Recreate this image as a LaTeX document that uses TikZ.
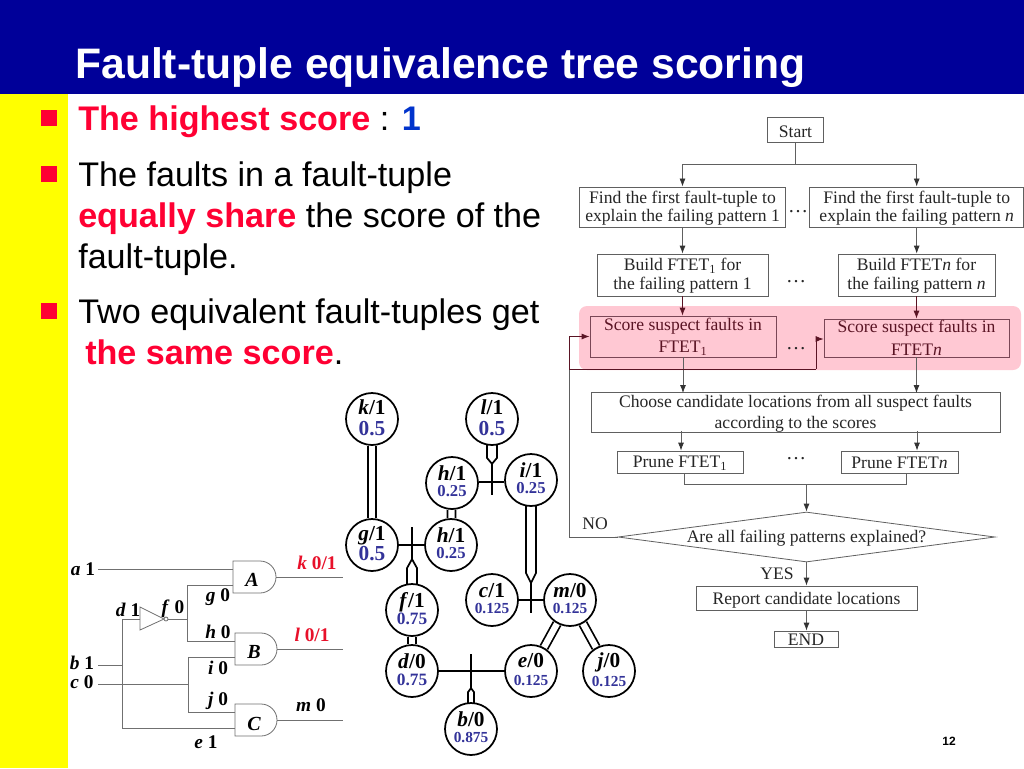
\documentclass[tikz,border=0pt]{standalone}
\usepackage{fontspec}
\setmainfont{Liberation Serif}
\newfontfamily\arialf{Liberation Sans}
\usetikzlibrary{calc,shapes.geometric,arrows.meta}
\pgfdeclarelayer{bg}\pgfdeclarelayer{edges}
\pgfsetlayers{bg,edges,main}
\definecolor{hdrblue}{HTML}{000099}
\definecolor{band}{HTML}{FFFF00}
\definecolor{alert}{HTML}{FF0033}
\definecolor{onekey}{HTML}{0033CC}
\definecolor{scorec}{HTML}{333399}
\definecolor{pinkband}{HTML}{FFC8D3}
\definecolor{flowline}{HTML}{606060}
\definecolor{darkpink}{HTML}{5A1424}
\definecolor{pinkbox}{HTML}{7A4656}
\definecolor{wirec}{HTML}{707070}
\definecolor{logicred}{HTML}{E8102A}
\lineskiplimit=-30pt
\newcommand{\slidefont}[1]{\arialf\fontsize{#1}{#1}\selectfont}
\newcommand{\treefont}[1]{\fontsize{16pt}{#1pt}\selectfont\bfseries}
\newcommand{\tnode}[4]{\textit{#1}/#2\\{\fontsize{#4pt}{#4pt}\selectfont\color{scorec}#3\rule[-2.4pt]{0pt}{1pt}}}
\newcommand{\lift}[1]{\rule{0pt}{#1pt}}
\tikzset{
  x=0.75pt,y=-0.75pt,
  bodytext/.style={anchor=base west,inner sep=0pt,font=\slidefont{25.6pt}},
  bullet/.style={fill=alert,draw=none,minimum size=12.5pt,inner sep=0pt},
  fbox/.style={draw=flowline,line width=0.6pt,inner sep=0pt,align=center,font=\fontsize{13.2pt}{13.8pt}\selectfont,text=black!85},
  pbox/.style={draw=pinkbox,line width=0.6pt,inner sep=0pt,align=center,font=\fontsize{13.2pt}{17pt}\selectfont,text=darkpink},
  fline/.style={draw=flowline,line width=0.6pt},
  farrow/.style={draw=flowline,line width=0.6pt,-{Latex[length=6pt,width=4.5pt,color=black!80]}},
  parrow/.style={draw=darkpink,line width=0.6pt,-{Latex[length=6pt,width=4.5pt,color=darkpink]}},
  dots/.style={anchor=base,inner sep=0pt,font=\fontsize{15pt}{15pt}\selectfont,text=black!85},
  tree/.style={circle,draw=black,line width=1.3pt,fill=white,minimum size=39pt,inner sep=0pt,align=center},
  tline/.style={draw=black,line width=1.3pt},
  tdouble/.style={draw=black,line width=1.3pt,double=white,double distance=4.7pt},
  tfuse/.style={draw=black,line width=1.3pt,fill=white,line join=miter},
  wire/.style={draw=wirec,line width=0.6pt},
  gatebox/.style={draw=wirec,line width=0.6pt,fill=white},
  clabel/.style={inner sep=0pt,font=\fontsize{14.5pt}{14.5pt}\selectfont\bfseries},
  clabelbig/.style={inner sep=0pt,font=\fontsize{15pt}{15pt}\selectfont\bfseries\itshape},
}
\begin{document}
\begin{tikzpicture}
\useasboundingbox (0,0) rectangle (1024,768);
\begin{pgfonlayer}{bg}
\fill[white] (0,0) rectangle (1024,768);
\fill[hdrblue] (0,0) rectangle (1024,94);
\fill[band] (0,94) rectangle (68,768);
\fill[pinkband,rounded corners=6pt] (579,306) rectangle (1021,370);
\end{pgfonlayer}

% Title and bullets
\node[anchor=base west,inner sep=0pt,text=white,font=\slidefont{32pt}\bfseries] (title) at (75,78) {Fault-tuple equivalence tree scoring};
\node[bullet] (b1) at (49,118) {};
\node[bullet] (b2) at (49,174) {};
\node[bullet] (b3) at (49,311) {};
\node[bodytext] (t1) at (78,130) {\textcolor{alert}{\bfseries The highest score} : \textcolor{onekey}{\bfseries 1}};
\node[bodytext] (t2) at (78,186) {The faults in a fault-tuple};
\node[bodytext] (t3) at (78,227) {\textcolor{alert}{\bfseries equally share} the score of the};
\node[bodytext] (t4) at (78,268) {fault-tuple.};
\node[bodytext] (t5) at (78,323) {Two equivalent fault-tuples get};
\node[bodytext] (t6) at (85,364) {\textcolor{alert}{\bfseries the same score}.};
\node[anchor=base,inner sep=0pt,font=\slidefont{9pt}\bfseries] (pg) at (949,745) {12};

% Flow chart
\node[fbox,minimum width=42pt,minimum height=19pt] (start) at (795.5,130.2) {\lift{10.5}Start};
\node[fbox,minimum width=155pt,minimum height=30.4pt] (find1) at (682.5,207.2) {\lift{10.5}Find the first fault-tuple to\\explain the failing pattern 1};
\node[fbox,minimum width=160.5pt,minimum height=30.4pt] (findn) at (916.7,207.2) {\lift{10.5}Find the first fault-tuple to\\explain the failing pattern \textit{n}};
\node[fbox,minimum width=128.2pt,minimum height=31.5pt] (build1) at (682.5,275) {\lift{10.5}Build FTET\textsubscript{1} for\\the failing pattern 1};
\node[fbox,minimum width=117.7pt,minimum height=31.5pt] (buildn) at (916.5,275) {\lift{10.5}Build FTET\textit{n} for\\the failing pattern \textit{n}};
\node[pbox,minimum width=139.5pt,minimum height=30.7pt] (score1) at (683,336.5) {Score suspect faults in\\FTET\textsubscript{1}};
\node[pbox,minimum width=138.7pt,minimum height=28.5pt] (scoren) at (916.5,338) {Score suspect faults in\\FTET\textit{n}};
\node[fbox,font=\fontsize{13.2pt}{15.8pt}\selectfont,minimum width=306.7pt,minimum height=28.5pt] (choose) at (795.5,412) {\lift{11.3}Choose candidate locations from all suspect faults\\according to the scores};
\node[fbox,minimum width=94.5pt,minimum height=16.5pt] (prune1) at (680,462) {\lift{10.5}Prune FTET\textsubscript{1}};
\node[fbox,minimum width=87.7pt,minimum height=16.5pt] (prunen) at (899.5,462) {\lift{10.5}Prune FTET\textit{n}};
\node[diamond,aspect=7.54,draw=flowline,line width=0.6pt,inner sep=0pt,minimum width=282.7pt,minimum height=37.5pt] (ask) at (806.5,537) {};
\node[inner sep=0pt,font=\fontsize{13.2pt}{13.8pt}\selectfont,text=black!85] (asktext) at (806.5,538.5) {Are all failing patterns explained?};
\node[fbox,minimum width=165.7pt,minimum height=18pt] (report) at (806.5,598) {\lift{12}Report candidate locations};
\node[fbox,minimum width=48pt,minimum height=12pt] (endn) at (806,639) {\lift{10.5}END};
\node[inner sep=0pt,font=\fontsize{13.2pt}{13.8pt}\selectfont,text=black!85] (no) at (595,524) {NO};
\node[inner sep=0pt,font=\fontsize{13.2pt}{13.8pt}\selectfont,text=black!85] (yes) at (777,574) {YES};
\node[dots] (d1) at (798,212) {…};
\node[dots] (d2) at (796,282) {…};
\node[dots] (d3) at (796,349) {…};
\node[dots] (d4) at (796,459) {…};

\coordinate (split) at (795.5,164);
\coordinate (chooseL) at (681,431);
\coordinate (chooseR) at (917,431);
\coordinate (chooseTL) at (683,393);
\coordinate (chooseTR) at (916.5,393);
\coordinate (p1out) at (684,473);
\coordinate (pnout) at (906,473);
\coordinate (merge) at (806.5,484.5);
\coordinate (fbk) at (569,537);
\coordinate (fbkU) at (569,336.5);
\coordinate (fbkB) at (569,369);
\coordinate (fbkC) at (816,369);
\coordinate (fbkD) at (816,339);

\draw[fline] (start.south) -- (split);
\draw[farrow] (split) -| (find1.north);
\draw[farrow] (split) -| (findn.north);
\draw[farrow] (find1.south) -- (build1.north);
\draw[farrow] (findn.south) -- (findn.south |- buildn.north);
\draw[parrow] (build1.south) -- (build1.south |- score1.north);
\draw[parrow] (buildn.south) -- (scoren.north);
\draw[farrow] (score1.south) -- (chooseTL);
\draw[farrow] (scoren.south) -- (chooseTR);
\draw[farrow] (chooseL) -- (chooseL |- prune1.north);
\draw[farrow] (chooseR) -- (chooseR |- prunen.north);
\draw[fline] (p1out) |- (merge);
\draw[fline] (pnout) |- (merge);
\draw[farrow] (merge) -- (ask.north);
\draw[farrow] (ask.south) -- (report.north);
\draw[farrow] (report.south) -- (endn.north -| report.south);
\draw[fline] (ask.west) -- (fbk) -- (fbkB);
\draw[parrow] (fbkB) -- (fbkU) -- (score1.west);
\draw[draw=darkpink,line width=0.6pt] (fbkB) -- (fbkC);
\draw[parrow] (fbkC) -- (fbkD) -- (fbkD -| scoren.west);

% Fault-tuple tree
\node[tree,font=\treefont{15.5}] (k) at (372,419) {\tnode{k}{1}{0.5}{16}};
\node[tree,font=\treefont{15.5}] (l) at (492,419) {\tnode{l}{1}{0.5}{16}};
\node[tree,font=\treefont{12}] (h1) at (452,483) {\tnode{h}{1}{0.25}{12.5}};
\node[tree,font=\treefont{12}] (i) at (531,480) {\tnode{i}{1}{0.25}{12.5}};
\node[tree,font=\treefont{15}] (g) at (372,545) {\tnode{g}{1}{0.5}{16}};
\node[tree,font=\treefont{12}] (h2) at (451,545) {\tnode{h}{1}{0.25}{12.5}};
\node[tree,font=\treefont{12.5}] (f) at (412,610) {\tnode{f}{1}{0.75}{13}};
\node[tree,font=\treefont{12}] (c) at (492,600) {\tnode{c}{1}{0.125}{11.5}};
\node[tree,font=\treefont{12.5}] (m) at (570,600) {\tnode{m}{0}{0.125}{11.5}};
\node[tree,font=\treefont{12.5}] (d) at (412,671) {\tnode{d}{0}{0.75}{13}};
\node[tree,font=\treefont{14.2}] (e) at (531,671) {\tnode{e}{0}{0.125}{11.5}};
\node[tree,font=\treefont{14.2}] (j) at (609,671) {\tnode{j}{0}{0.125}{11.5}};
\node[tree,font=\treefont{12}] (b) at (471,729) {\tnode{b}{0}{0.875}{11.5}};

\begin{pgfonlayer}{edges}
\draw[tdouble] (k) -- (g);
\draw[tdouble] (h1) -- (h2);
\draw[tdouble] (f) -- (d);
\draw[tdouble] (m) -- (e);
\draw[tdouble] (m) -- (j);
% l into h/i
\draw[tline] ($(h1.east)+(0,-1)$) -- ($(i.west)+(0,2)$);
\draw[tline] (492,463) -- (492,495);
\draw[tfuse] ($(l.south)+(-5,-3)$) -- ($(l.south)+(-5,12)$) -- ($(l.south)+(0,18)$) -- ($(l.south)+(5,12)$) -- ($(l.south)+(5,-3)$);
% f into g/h
\draw[tline] (g) -- (h2);
\draw[tline] (412,527) -- (412,562);
\draw[tfuse] ($(f.north)+(-5,3)$) -- ($(f.north)+(-5,-15)$) -- ($(f.north)+(0,-24)$) -- ($(f.north)+(5,-15)$) -- ($(f.north)+(5,3)$);
% i into c/m
\draw[tline] (c) -- (m);
\draw[tline] (531,583) -- (531,613);
\draw[tfuse] ($(i.south)+(-5,-3)$) -- (526,573) -- (531,583) -- (536,573) -- ($(i.south)+(5,-3)$);
% b into d/e
\draw[tline] (d) -- (e);
\draw[tline] (471,654) -- (471,690);
\draw[tfuse] ($(b.north)+(-3,3)$) -- ($(b.north)+(-3,-10)$) -- ($(b.north)+(0,-14)$) -- ($(b.north)+(3,-10)$) -- ($(b.north)+(3,3)$);
\end{pgfonlayer}

% Circuit
\node[clabel] (la) at (83,569) {\textit{a} 1};
\node[clabel] (ld) at (128,610) {\textit{d} 1};
\node[clabel] (lf) at (173,609) {\textit{f} 0};
\node[clabel] (lg) at (218,597) {\textit{g} 0};
\node[clabel] (lh) at (218,632) {\textit{h} 0};
\node[clabel] (li) at (218,668) {\textit{i} 0};
\node[clabel] (lj) at (218,701) {\textit{j} 0};
\node[clabel] (lb) at (82,663) {\textit{b} 1};
\node[clabel] (lc) at (82,682) {\textit{c} 0};
\node[clabel] (le) at (206,742) {\textit{e} 1};
\node[clabel,text=logicred] (lk) at (317,563) {\textit{k} 0/1};
\node[clabel,text=logicred] (ll) at (312,635) {\textit{l} 0/1};
\node[clabel] (lm) at (311,705) {\textit{m} 0};

\draw[gatebox] (233,561) -- (260,561) arc[start angle=-90,end angle=90,radius=16] -- (233,593) -- cycle;
\draw[gatebox] (235,633) -- (261,633) arc[start angle=-90,end angle=90,radius=16] -- (235,665) -- cycle;
\draw[gatebox] (235,704) -- (261,704) arc[start angle=-90,end angle=90,radius=16] -- (235,736) -- cycle;
\node[clabelbig] (A) at (252,580) {A};
\node[clabelbig] (B) at (254,652) {B};
\node[clabelbig] (C) at (254,724) {C};
\draw[gatebox] (140,607) -- (164,619) -- (140,630) -- cycle;
\draw[gatebox] (166,619) circle[radius=2];

\coordinate (wa) at (98,569);
\coordinate (wb) at (98,665);
\coordinate (wc) at (98,684);
\draw[wire] (wa) -- (233,569);
\draw[wire] (276,577) -- (343,577);
\draw[wire] (277,649) -- (343,649);
\draw[wire] (277,720) -- (343,720);
\draw[wire] (140,619) -| (122,728) -- (235,728);
\draw[wire] (wb) -- (122,665);
\draw[wire] (wc) -- (188,684);
\draw[wire] (235,657) -| (188,712) -- (235,712);
\draw[wire] (168,619) -- (187,619);
\draw[wire] (233,585) -| (187,641) -- (235,641);
\end{tikzpicture}
\end{document}
